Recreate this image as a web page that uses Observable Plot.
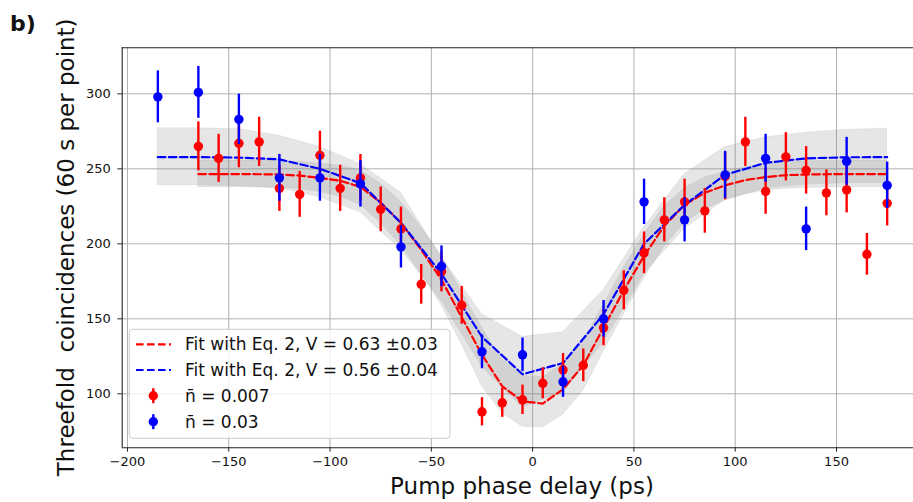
<!DOCTYPE html>
<html><head><meta charset="utf-8">
<script src="https://cdn.jsdelivr.net/npm/d3@7"></script>
<script src="https://cdn.jsdelivr.net/npm/@observablehq/plot@0.6"></script>
<style>
body{margin:0;background:#fff;overflow:hidden}
#chart{position:relative;width:913px;height:502px}
</style>
</head><body><div id="chart"></div>
<script>
// ---- tick labels ----
const xTicks = [-200, -150, -100, -50, 0, 50, 100, 150];
const yTicks = [100, 150, 200, 250, 300];

// ---- n̄ = 0.007 (red) measurements ----
const redX = [-165,-155,-145,-135,-125,-115,-105,-95,-85,-75,-65,-55,-45,-35,-25,-15,-5,5,15,25,35,45,55,65,75,85,95,105,115,125,135,145,155,165,175];
const redY = [265,257,267,268,237,233,259,237,244,223,210,173,181.5,159,88,94,96,107,116,119,144,169,194,216,228,222,245,268,235,258,249,234,236,193,227];
const redErr = [16.3,16,16.3,16.4,15.4,15.3,16.1,15.4,15.6,14.9,14.5,13.2,13.5,12.6,9.4,9.7,9.8,10.3,10.8,10.9,12,13,13.9,14.7,15.1,14.9,15.6,16.4,15.3,16.1,15.8,15.3,15.4,13.9,15.1];

// ---- n̄ = 0.03 (blue) measurements ----
const blueX = [-185,-165,-145,-125,-105,-85,-65,-45,-25,-5,15,35,55,75,95,115,135,155,175];
const blueY = [298,301,283,244,244,240,198,185,128,126,108,150,228,216,246,257,210,255,239];
const blueErr = [17.3,17.3,16.8,15.6,15.6,15.5,14.1,13.6,11.3,11.2,10.4,12.2,15.1,14.7,15.7,16,14.5,16,15.5];

// ---- fits (Eq. 2) ----
const redFitY = [246.5,246.5,246.5,246.4,246.2,245.5,244,242,238,227.5,214,196,176,151,126,105,95,93.5,103,119,144,169,192,212,226,234,239,242.5,244.5,245.8,246.2,246.4,246.5,246.5,246.5];
const redBandHi = [255.5,255.5,255.5,255.5,255.3,254.8,253.5,252,249,240,228,211,192,168,144,123,112,111,120,135,159,184,206,225,237,244,248,251,253,254.5,255,255.3,255.5,255.5,255.5];
const redBandLo = [237.8,237.8,237.8,237.6,237.3,236.5,234.5,231.5,226,214,199,180,159,133,105,87,78,77.5,86,102,128,153,177,198,214,223,229,233,235.5,236.8,237.3,237.6,237.8,237.8,237.8];

const blueFitY = [257.8,257.8,257.5,256.3,250,240.5,214,180,138,113,120.5,153,200,226,246,254,257,257.7,257.8];
const blueBandHi = [277,277,276.5,272,264.5,253,234,191,153,138,141,169,211,246.5,264.5,271,274,276,276.7];
const blueBandLo = [239,239,238.5,237,231,221,196,162,118,91,101,134,180,210,229,237,239.5,240.5,240.5];

// ---- legend labels ----
const legendLabels = ["Fit with Eq. 2, V = 0.63 \u00b10.03", "Fit with Eq. 2, V = 0.56 \u00b10.04", "n\u0304 = 0.007", "n\u0304 = 0.03"];

// tables
const redPts = redX.map((x, i) => ({x, y: redY[i], e: redErr[i]}));
const bluePts = blueX.map((x, i) => ({x, y: blueY[i], e: blueErr[i]}));
const redFit = redX.map((x, i) => ({x, y: redFitY[i], lo: redBandLo[i], hi: redBandHi[i]}));
const blueFit = blueX.map((x, i) => ({x, y: blueFitY[i], lo: blueBandLo[i], hi: blueBandHi[i]}));

const X0 = -202.6, X1 = 188, Y0 = 64, Y1 = 330.7;
const FONT = "DejaVu Sans";
const DASH = "7.6,3.4";

const chart = Plot.plot({
  width: 913, height: 502,
  marginLeft: 121.7, marginRight: 0, marginTop: 47.3, marginBottom: 54.7,
  style: {fontFamily: FONT, background: "white", color: "black", overflow: "visible"},
  x: {domain: [X0, X1]},
  y: {domain: [Y0, Y1]},
  marks: [
    Plot.gridX(xTicks, {stroke: "#b0b0b0", strokeOpacity: 1, strokeWidth: 1}),
    Plot.gridY(yTicks, {stroke: "#b0b0b0", strokeOpacity: 1, strokeWidth: 1}),
    Plot.areaY(blueFit, {x: "x", y1: "lo", y2: "hi", fill: "#808080", fillOpacity: 0.2, stroke: "#808080", strokeOpacity: 0.12}),
    Plot.areaY(redFit, {x: "x", y1: "lo", y2: "hi", fill: "#808080", fillOpacity: 0.2, stroke: "#808080", strokeOpacity: 0.12}),
    Plot.line(redFit, {x: "x", y: "y", stroke: "#ff0000", strokeWidth: 2.2, strokeDasharray: DASH}),
    Plot.line(blueFit, {x: "x", y: "y", stroke: "#0000ff", strokeWidth: 2.2, strokeDasharray: DASH}),
    Plot.ruleX(redPts, {x: "x", y1: d => d.y - d.e, y2: d => d.y + d.e, stroke: "#ff0000", strokeWidth: 2.4}),
    Plot.dot(redPts, {x: "x", y: "y", r: 4.7, fill: "#ff0000", stroke: "none"}),
    Plot.ruleX(bluePts, {x: "x", y1: d => d.y - d.e, y2: d => d.y + d.e, stroke: "#0000ff", strokeWidth: 2.4}),
    Plot.dot(bluePts, {x: "x", y: "y", r: 4.7, fill: "#0000ff", stroke: "none"}),
    Plot.ruleY([Y1], {stroke: "#222", strokeWidth: 1.1}),
    Plot.ruleY([Y0], {stroke: "#222", strokeWidth: 1.1}),
    Plot.ruleX([X0], {stroke: "#222", strokeWidth: 1.1}),
    Plot.axisX(xTicks, {tickSize: 4.3, tickPadding: 5, fontSize: 13, label: null, stroke: "#222", fill: "#111"}),
    Plot.axisY(yTicks, {tickSize: 4.3, tickPadding: 7, fontSize: 13, label: null, stroke: "#222", fill: "#111"})
  ]
});
document.getElementById("chart").appendChild(chart);

// ---- labels & legend ----
const svg = d3.select(chart);
svg.append("text").attr("x", 10).attr("y", 31).attr("text-anchor", "start").attr("font-family", FONT).attr("font-weight", "bold")
  .attr("font-size", 22).attr("fill", "#111").text("b)");
svg.append("text").attr("x", 522).attr("y", 494).attr("text-anchor", "middle").attr("font-family", FONT)
  .attr("font-size", 23).attr("fill", "#111").text("Pump phase delay (ps)");
svg.append("text").attr("transform", "translate(74,247.3) rotate(-90)").attr("text-anchor", "middle")
  .attr("font-family", FONT).attr("font-size", 23).attr("fill", "#111")
  .style("white-space", "pre").text("Threefold  coincidences (60 s per point)");

const lg = svg.append("g");
lg.append("rect").attr("x", 129.3).attr("y", 329.3).attr("width", 320.7).attr("height", 109)
  .attr("rx", 3.5).attr("fill", "white").attr("fill-opacity", 0.8).attr("stroke", "#cccccc").attr("stroke-width", 1);
const rowsY = [344.3, 370, 395.7, 421.7];
const colors = ["#ff0000", "#0000ff", "#ff0000", "#0000ff"];
rowsY.forEach((cy, i) => {
  if (i < 2) {
    lg.append("line").attr("x1", 136).attr("x2", 171).attr("y1", cy).attr("y2", cy)
      .attr("stroke", colors[i]).attr("stroke-width", 2.2).attr("stroke-dasharray", DASH);
  } else {
    lg.append("line").attr("x1", 153.3).attr("x2", 153.3).attr("y1", cy - 7.5).attr("y2", cy + 7.5)
      .attr("stroke", colors[i]).attr("stroke-width", 2.4);
    lg.append("circle").attr("cx", 153.3).attr("cy", cy).attr("r", 4.7).attr("fill", colors[i]);
  }
  lg.append("text").attr("x", 185).attr("y", cy).attr("dy", "0.36em").attr("text-anchor", "start").attr("font-family", FONT)
    .attr("font-size", 17).attr("fill", "#111").text(legendLabels[i]);
});
</script>
</body></html>
